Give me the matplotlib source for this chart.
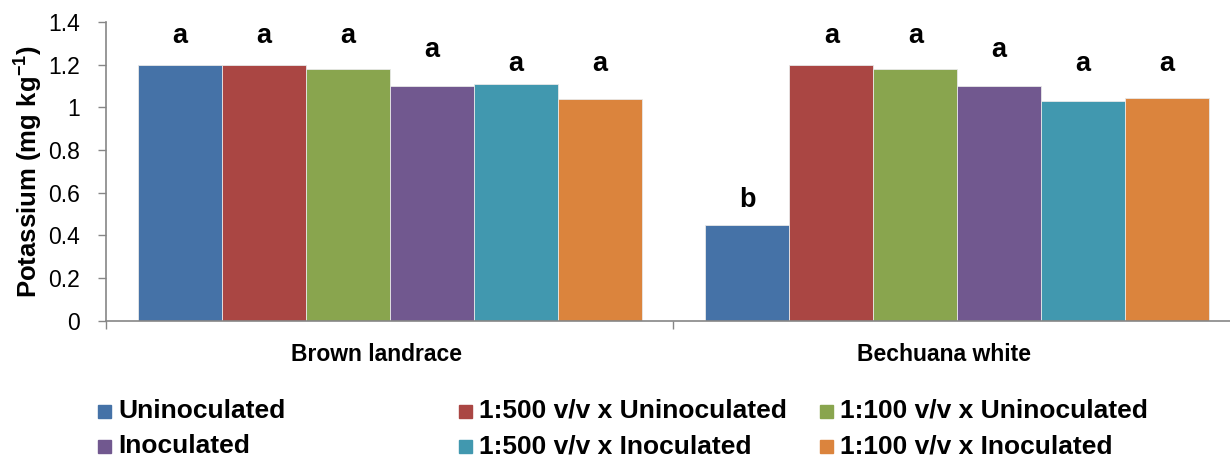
import matplotlib
matplotlib.use("Agg")
import matplotlib.pyplot as plt
from matplotlib.patches import Rectangle
from matplotlib.transforms import offset_copy
import numpy as np

plt.rcParams['font.family'] = ['Liberation Sans', 'DejaVu Sans']
plt.rcParams['mathtext.fontset'] = 'custom'
plt.rcParams['mathtext.rm'] = 'Liberation Sans'
plt.rcParams['mathtext.bf'] = 'Liberation Sans:bold'

categories = ["Brown landrace", "Bechuana white"]
series_names = ["Uninoculated", "1:500 v/v x Uninoculated", "1:100 v/v x Uninoculated",
                "Inoculated", "1:500 v/v x Inoculated", "1:100 v/v x Inoculated"]
# values[series][category]
uninoculated = [1.20, 0.45]
v500_uninoc = [1.20, 1.20]
v100_uninoc = [1.18, 1.18]
inoculated = [1.10, 1.10]
v500_inoc = [1.11, 1.03]
v100_inoc = [1.04, 1.045]
values = [uninoculated, v500_uninoc, v100_uninoc, inoculated, v500_inoc, v100_inoc]
# significance letters [series][category]
letters = [["a", "b"], ["a", "a"], ["a", "a"], ["a", "a"], ["a", "a"], ["a", "a"]]
letter_y = [[1.335, 0.565], [1.335, 1.335], [1.335, 1.335], [1.269, 1.269], [1.203, 1.203], [1.203, 1.203]]
yticks = [0, 0.2, 0.4, 0.6, 0.8, 1, 1.2, 1.4]
ytick_labels = ["0", "0.2", "0.4", "0.6", "0.8", "1", "1.2", "1.4"]

colors = ["#4572A7", "#AA4643", "#89A54E", "#71588F", "#4198AF", "#DB843D"]

W, H = 1230, 457
fig = plt.figure(figsize=(W / 100, H / 100), dpi=100)
ax = fig.add_axes([106 / W, (H - 320.7) / H, (1241 - 106) / W, (320.7 - 22) / H])

x = np.arange(len(categories))
bw = 0.148
for j, (name, vals) in enumerate(zip(series_names, values)):
    pos = x + (j - 2.5) * bw
    ax.bar(pos, vals, width=bw, color=colors[j], edgecolor='#e8e8e8', linewidth=0.6, label=name)
    for k in range(len(categories)):
        ax.text(pos[k], letter_y[j][k], letters[j][k], ha='center', va='center',
                fontsize=19.5, fontweight='bold')

ax.set_xlim(-0.5, len(categories) - 0.5)
ax.set_ylim(0, 1.4)
ax.set_yticks(yticks)
ax.set_yticklabels(ytick_labels, fontsize=16.5)
ax.set_xticks(np.arange(len(categories) + 1) - 0.5)
ax.set_xticklabels([])
ax.tick_params(axis='y', direction='out', length=6, width=1, color='#868686', pad=12.5)
ax.tick_params(axis='x', direction='out', length=6, width=1, color='#868686')
for s in ['top', 'right']:
    ax.spines[s].set_visible(False)
for s in ['left', 'bottom']:
    ax.spines[s].set_color('#868686')
    ax.spines[s].set_linewidth(1.2)

ax.set_ylabel(r'Potassium (mg kg$^{\mathbf{-1}}$)', fontsize=18.5, fontweight='bold', labelpad=3)

trans = offset_copy(ax.get_xaxis_transform(), fig=fig, x=-13, y=-34, units='dots')
for k, c in enumerate(categories):
    ax.text(x[k], 0, c, transform=trans, ha='center', va='center', fontsize=16.5, fontweight='bold')

# legend (Excel-style equal-width columns, row-major)
col_x = [98, 459, 820]
row_base = [418, 453]
for i, name in enumerate(series_names):
    cx = col_x[i % 3]
    by = row_base[i // 3]
    fig.patches.append(Rectangle((cx / W, (H - by) / H), 13 / W, 13 / H,
                                 transform=fig.transFigure, color=colors[i]))
    fig.text((cx + 20) / W, (H - by) / H, name, ha='left', va='baseline',
             fontsize=19, fontweight='bold')

fig.savefig("out.png", dpi=100)
